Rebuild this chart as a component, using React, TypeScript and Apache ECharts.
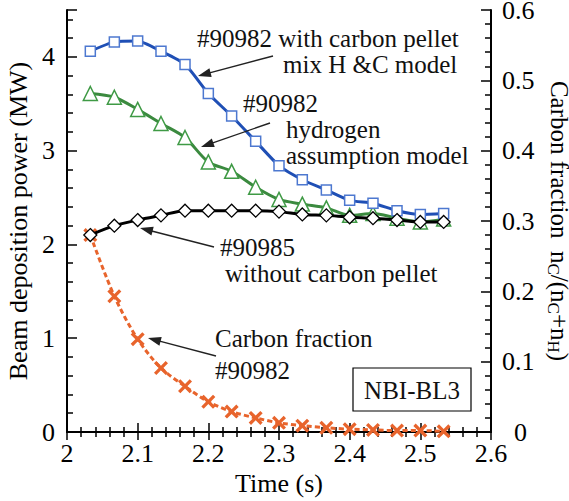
import React, { useEffect, useRef } from "react";
import * as echarts from "echarts";

const times = [2.033, 2.067, 2.1, 2.133, 2.167, 2.2, 2.233, 2.267, 2.3, 2.333, 2.367, 2.4, 2.433, 2.467, 2.5, 2.533];
const withCarbonMix = [4.06, 4.16, 4.17, 4.06, 3.92, 3.61, 3.37, 3.1, 2.84, 2.69, 2.58, 2.47, 2.44, 2.36, 2.32, 2.33];
const hydrogenModel = [3.61, 3.57, 3.44, 3.29, 3.14, 2.88, 2.78, 2.61, 2.48, 2.43, 2.39, 2.31, 2.33, 2.28, 2.24, 2.27];
const withoutCarbon = [2.1, 2.2, 2.26, 2.31, 2.36, 2.36, 2.36, 2.36, 2.35, 2.32, 2.31, 2.29, 2.28, 2.26, 2.24, 2.24];
const carbonFraction = [0.28, 0.193, 0.132, 0.091, 0.065, 0.043, 0.029, 0.02, 0.013, 0.009, 0.006, 0.004, 0.003, 0.002, 0.002, 0.001];

const xTicks = ["2", "2.1", "2.2", "2.3", "2.4", "2.5", "2.6"];

const FONT = "Liberation Serif";
const FS = 26;
const AFS = 25;

const pair = (ys: number[]) => ys.map((y, i) => [times[i], y]);

const CROSS = "path://M2,0 L6,4 L10,0 L12,2 L8,6 L12,10 L10,12 L6,8 L2,12 L0,10 L4,6 L0,2 Z";

function arrow(x1: number, y1: number, x2: number, y2: number) {
  const dx = x2 - x1;
  const dy = y2 - y1;
  const len = Math.sqrt(dx * dx + dy * dy);
  const ux = dx / len;
  const uy = dy / len;
  const L = 13;
  const W = 4.5;
  const bx = x2 - ux * L;
  const by = y2 - uy * L;
  const nx = -uy;
  const ny = ux;
  return [
    { type: "line", shape: { x1, y1, x2: bx + ux * 2, y2: by + uy * 2 }, style: { stroke: "#222", lineWidth: 1.4 }, z: 100 },
    {
      type: "polygon",
      shape: { points: [[x2, y2], [bx + nx * W, by + ny * W], [bx - nx * W, by - ny * W]] },
      style: { fill: "#222" },
      z: 100,
    },
  ];
}

function label(text: string, x: number, y: number) {
  return {
    type: "text",
    x,
    y,
    z: 100,
    style: { text, fontFamily: FONT, fontSize: AFS, lineHeight: 24, fill: "#111", verticalAlign: "middle", align: "left" },
  };
}

export default function App() {
  const ref = useRef<HTMLDivElement>(null);
  useEffect(() => {
    document.body.style.margin = "0";
    const chart = echarts.init(ref.current!, null, { renderer: "svg" });
    const axisCommon = {
      axisLine: { lineStyle: { color: "#000", width: 2 } },
      splitLine: { show: false },
    };
    chart.setOption({
      animation: false,
      backgroundColor: "#fff",
      textStyle: { fontFamily: FONT },
      grid: { left: 67, right: 78, top: 10, bottom: 69, containLabel: false, outerBoundsMode: "none" },
      xAxis: [
        {
          type: "value",
          min: 2,
          max: 2.6,
          interval: 0.1,
          position: "bottom",
          ...axisCommon,
          axisTick: { inside: true, length: 9, lineStyle: { color: "#000", width: 1.5 } },
          minorTick: { show: true, splitNumber: 5, length: 5, lineStyle: { color: "#000", width: 1.5 } },
          axisLabel: {
            margin: 8,
            fontFamily: FONT,
            fontSize: FS,
            color: "#000",
            formatter: (v: number) => xTicks[Math.round((v - 2) * 10)] ?? "",
          },
          name: "Time (s)",
          nameLocation: "middle",
          nameGap: 38,
          nameTextStyle: { fontFamily: FONT, fontSize: FS, color: "#000" },
        },
        {
          type: "value",
          min: 2,
          max: 2.6,
          interval: 0.1,
          position: "top",
          ...axisCommon,
          axisTick: { inside: true, length: 8, lineStyle: { color: "#000", width: 1.5 } },
          minorTick: { show: true, splitNumber: 5, length: 5, lineStyle: { color: "#000", width: 1.5 } },
          axisLabel: { show: false },
        },
      ],
      yAxis: [
        {
          type: "value",
          min: 0,
          max: 4.5,
          interval: 1,
          position: "left",
          ...axisCommon,
          axisTick: { inside: true, length: 10, lineStyle: { color: "#000", width: 1.5 } },
          minorTick: { show: true, splitNumber: 5, length: 6, lineStyle: { color: "#000", width: 1.5 } },
          axisLabel: { margin: 12, fontFamily: FONT, fontSize: FS, color: "#000", showMaxLabel: false },
          name: "Beam deposition power (MW)",
          nameLocation: "middle",
          nameGap: 34,
          nameTextStyle: { fontFamily: FONT, fontSize: FS, color: "#000" },
        },
        {
          type: "value",
          min: 0,
          max: 0.6,
          interval: 0.1,
          position: "right",
          ...axisCommon,
          axisTick: { inside: true, length: 10, lineStyle: { color: "#000", width: 1.5 } },
          minorTick: { show: true, splitNumber: 5, length: 6, lineStyle: { color: "#000", width: 1.5 } },
          axisLabel: {
            margin: 11,
            fontFamily: FONT,
            fontSize: FS,
            color: "#000",
            formatter: (v: number) => (v === 0 ? "{z|0}" : String(Math.round(v * 10) / 10)),
            rich: { z: { fontFamily: FONT, fontSize: FS, color: "#000", padding: [0, 0, 0, 12] } },
          },
          name: "Carbon fraction  n{s|C}/(n{s|C}+n{s|H})",
          nameLocation: "middle",
          nameRotate: -90,
          nameGap: 42,
          nameTextStyle: {
            fontFamily: FONT,
            fontSize: 25,
            color: "#000",
            lineHeight: 28,
            rich: { s: { fontFamily: FONT, fontSize: 17, lineHeight: 13, verticalAlign: "bottom", color: "#000" } },
          },
        },
      ],
      series: [
        {
          name: "Carbon fraction #90982",
          type: "line",
          yAxisIndex: 1,
          data: pair(carbonFraction),
          smooth: 0.3,
          symbol: CROSS,
          symbolSize: 14,
          lineStyle: { color: "#e8642c", width: 3, type: [5, 3] },
          itemStyle: { color: "#e8642c" },
          z: 2,
        },
        {
          name: "#90982 hydrogen assumption model",
          type: "line",
          data: pair(hydrogenModel),
          smooth: 0.3,
          symbol: "triangle",
          symbolSize: 14,
          lineStyle: { color: "#3b8a3f", width: 3 },
          itemStyle: { color: "#fff", borderColor: "#3f9a45", borderWidth: 1.5 },
          z: 3,
        },
        {
          name: "#90982 with carbon pellet mix H&C model",
          type: "line",
          data: pair(withCarbonMix),
          smooth: 0.2,
          symbol: "rect",
          symbolSize: 10,
          lineStyle: { color: "#1f4fb5", width: 3 },
          itemStyle: { color: "#fff", borderColor: "#4d78d0", borderWidth: 1.5 },
          z: 4,
        },
        {
          name: "#90985 without carbon pellet",
          type: "line",
          data: pair(withoutCarbon),
          smooth: 0.3,
          symbol: "diamond",
          symbolSize: 13,
          lineStyle: { color: "#000", width: 3 },
          itemStyle: { color: "#fff", borderColor: "#000", borderWidth: 1.3 },
          z: 5,
        },
      ],
      graphic: [
        label("#90982 with carbon pellet", 197, 38),
        label("mix H &C model", 283, 64),
        label("#90982", 243, 103),
        label("hydrogen", 286, 129),
        label("assumption model", 286, 155),
        label("#90985", 220, 247),
        label("without carbon pellet", 225, 273),
        label("Carbon fraction", 215, 338),
        label("#90982", 215, 370),
        {
          type: "rect",
          shape: { x: 353, y: 368, width: 118, height: 43 },
          style: { fill: "#fff", stroke: "#000", lineWidth: 1.2 },
          z: 100,
        },
        {
          type: "text",
          x: 412,
          y: 390,
          z: 101,
          style: { text: "NBI-BL3", fontFamily: FONT, fontSize: AFS, lineHeight: 24, fill: "#111", align: "center", verticalAlign: "middle" },
        },
        ...arrow(273, 56, 198, 76),
        ...arrow(270, 123, 201, 147),
        ...arrow(214, 247, 140, 228),
        ...arrow(216, 356, 148, 338),
      ],
    });
    return () => chart.dispose();
  }, []);
  return <div ref={ref} style={{ width: 569, height: 501 }} />;
}
